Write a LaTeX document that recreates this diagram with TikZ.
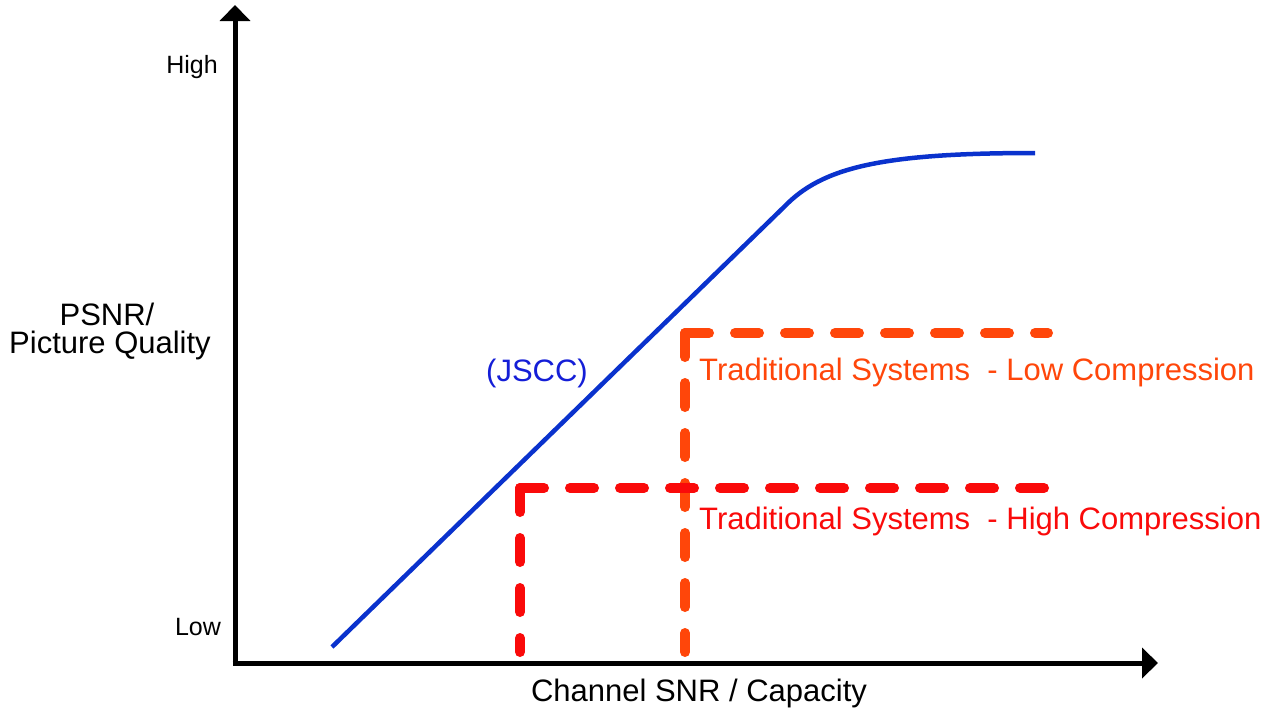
\documentclass[tikz,border=0pt]{standalone}
\usepackage{fontspec}
\setmainfont{Liberation Sans}
\usetikzlibrary{arrows.meta}
\definecolor{curveblue}{RGB}{10,50,205}
\definecolor{textblue}{RGB}{20,30,215}
\definecolor{lowred}{RGB}{255,70,10}
\definecolor{highred}{RGB}{250,10,10}
\tikzset{
  axis/.style={line width=5pt, -{Triangle[length=16pt,width=30pt]}},
  ticklbl/.style={font=\fontsize{25}{30}\selectfont, inner sep=0pt, anchor=base},
  biglbl/.style={font=\fontsize{31}{36}\selectfont, inner sep=0pt, anchor=base},
  dashline/.style={line width=10pt, line cap=round, dash pattern=on 24pt off 26pt},
}
\begin{document}
\begin{tikzpicture}[x=1pt,y=-1pt]
\useasboundingbox (0,0) rectangle (1272,713);
% axes
\coordinate (origin) at (235,663);
\coordinate (ytip) at (235,5);
\coordinate (xtip) at (1158,663);
\draw[axis] (235,665.5) -- (ytip);
\draw[axis] (232.5,663) -- (xtip);
% axis labels
\node[ticklbl] (high) at (192,73) {High};
\node[ticklbl] (low) at (198,635) {Low};
\node[biglbl] (ylabel1) at (107,325) {PSNR/};
\node[biglbl] (ylabel2) at (110,353) {Picture Quality};
\node[biglbl] (xlabel) at (699,701) {Channel SNR / Capacity};
% JSCC curve
\coordinate (c0) at (332,647);
\coordinate (c1) at (785,206);
\coordinate (c2) at (1035,153);
\draw[curveblue, line width=4.5pt] (c0) -- (c1) .. controls (822,168) and (880,153) .. (c2);
\node[biglbl, text=textblue] (jscc) at (537,381) {(JSCC)};
% traditional low compression
\coordinate (l0) at (685,652);
\coordinate (l1) at (685,333);
\coordinate (l2) at (1048,333);
\draw[dashline, lowred] (l1) -- (l0);
\draw[dashline, lowred] (l1) -- (l2);
% traditional high compression
\coordinate (h0) at (520,652);
\coordinate (h1) at (520,488);
\coordinate (h2) at (1048,488);
\draw[dashline, highred] (h1) -- (h0);
\draw[dashline, highred] (h1) -- (h2);
\node[biglbl, text=lowred, anchor=base west] (lowtxt) at (699,380) {Traditional Systems\ \ - Low Compression};
\node[biglbl, text=highred, anchor=base west] (hightxt) at (699,529) {Traditional Systems\ \ - High Compression};
\end{tikzpicture}
\end{document}
